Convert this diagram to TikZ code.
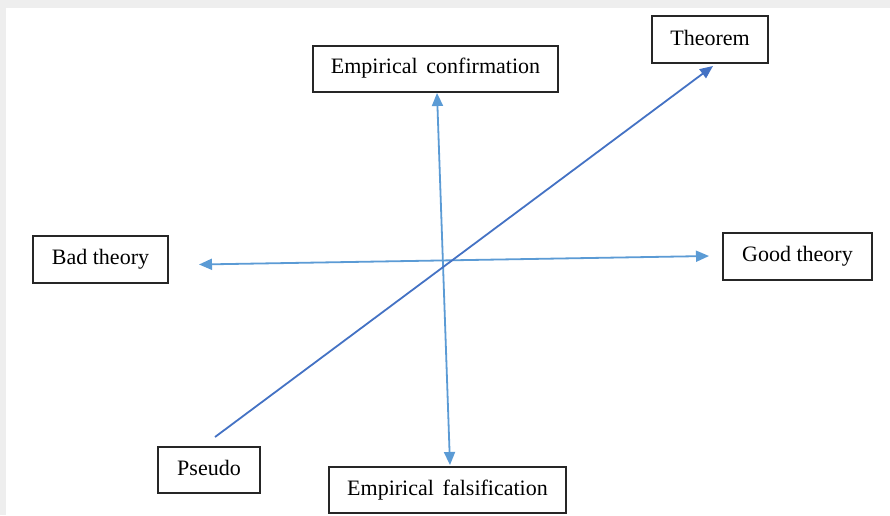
\documentclass[tikz,border=0pt]{standalone}
\usepackage{fontspec}
\setmainfont{Liberation Serif}
\usetikzlibrary{arrows.meta}
\definecolor{lineblue}{HTML}{5B9BD5}
\definecolor{darkblue}{HTML}{4472C4}
\definecolor{bggray}{HTML}{EEEEEE}
\begin{document}
\begin{tikzpicture}[x=1pt,y=-1pt,
  tip/.tip={Triangle[length=13pt,width=11pt]},
  box/.style={draw=black!85,line width=1.5pt,fill=white,inner sep=0pt,font=\fontsize{22}{24}\selectfont},
  biconn/.style={draw=lineblue,line width=1.8pt,tip-tip},
  diag/.style={draw=darkblue,line width=1.8pt,-tip}]
\fill[bggray] (0,0) rectangle (890,515);
\fill[white] (6,8) rectangle (890,515);
\useasboundingbox (0,0) rectangle (890,515);
% boxes
\node[box,minimum width=116pt,minimum height=47pt] (thm) at (710,39.5) {\raisebox{4pt}{Theorem}};
\node[box,minimum width=245pt,minimum height=46pt] (conf) at (435.5,69) {\raisebox{6pt}{Empirical\hspace{0.15em} confirmation}};
\node[box,minimum width=135pt,minimum height=47pt] (bad) at (100.5,259.5) {\raisebox{2pt}{Bad theory}};
\node[box,minimum width=149pt,minimum height=47pt] (good) at (797.5,256.5) {\raisebox{5pt}{Good theory}};
\node[box,minimum width=102pt,minimum height=46pt] (pseudo) at (209,470) {\raisebox{5pt}{Pseudo}};
\node[box,minimum width=237pt,minimum height=46pt] (fals) at (447.5,490) {\raisebox{5pt}{Empirical\hspace{0.15em} falsification}};
% connector ends
\coordinate (hl) at (199,264.5);
\coordinate (hr) at (709,256);
\coordinate (vt) at (437,93);
\coordinate (vb) at (450,465);
\coordinate (ds) at (215,437);
\coordinate (de) at (713,66);
\draw[biconn] (hl) -- (hr);
\draw[biconn] (vt) -- (vb);
\draw[diag] (ds) -- (de);
\end{tikzpicture}
\end{document}
